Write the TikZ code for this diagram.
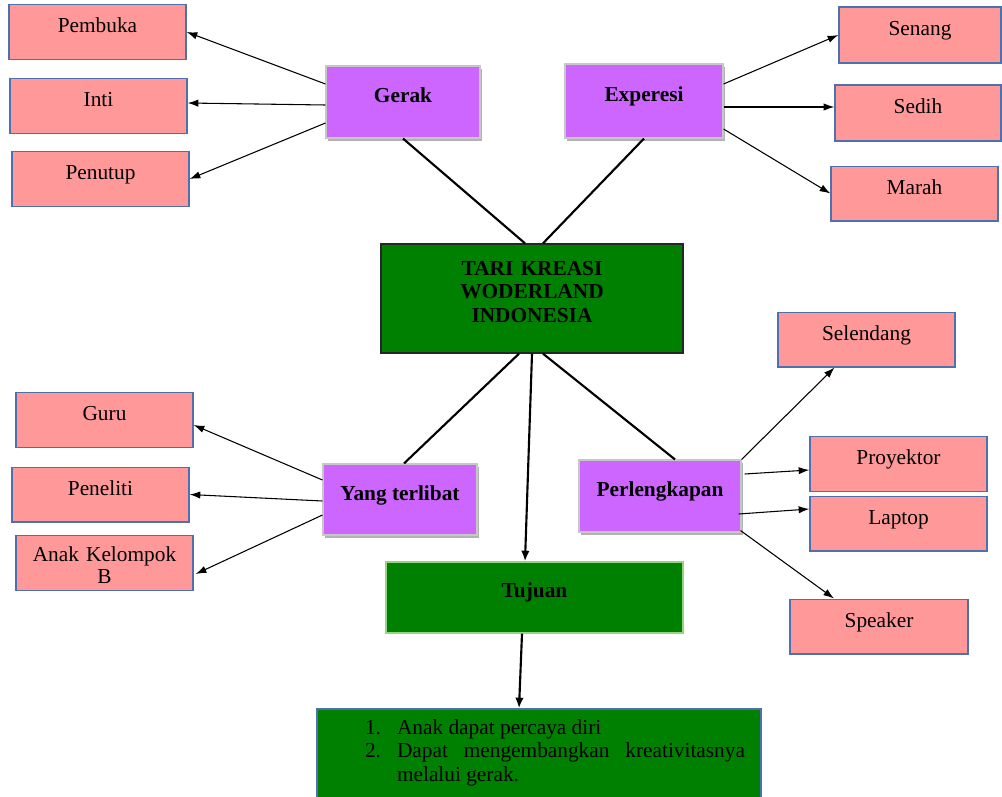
\documentclass[tikz,border=0pt]{standalone}
\usepackage{fontspec}
\setmainfont{Liberation Serif}
\usetikzlibrary{positioning, arrows.meta, calc, shadows}
\definecolor{pinkfill}{RGB}{255,153,153}
\definecolor{pinkline}{RGB}{79,112,176}
\definecolor{ungu}{RGB}{204,102,255}
\definecolor{hijau}{RGB}{0,128,0}
\definecolor{hijauline}{RGB}{150,212,130}
\tikzset{
  leaf/.style={draw=pinkline, fill=pinkfill, line width=1pt, inner sep=0pt,
    minimum width=132.75pt, minimum height=41pt,
    font=\fontsize{16}{17.6}\selectfont, text height=12pt, text depth=11.25pt},
  topic/.style={draw=black!22, fill=ungu, line width=0.8pt, inner sep=0pt,
    minimum width=115.5pt, minimum height=54pt,
    font=\fontsize{16}{17.6}\selectfont\bfseries, text height=11pt, text depth=10pt,
    drop shadow={shadow xshift=1.5pt, shadow yshift=-2pt, fill=black, opacity=.3}},
  pusat/.style={draw=black!85, fill=hijau, line width=1pt, inner sep=0pt,
    font=\fontsize{16}{17.6}\selectfont\bfseries},
  tipis/.style={-{Latex[length=8pt,width=5.5pt]}, line width=0.8pt},
  tebal/.style={line width=1.6pt},
}
\begin{document}
\begin{tikzpicture}[x=0.75pt, y=-0.75pt]
    \useasboundingbox (0,0) rectangle (1002,796);

    \node[pusat, minimum width=226.5pt, minimum height=81.75pt, text width=200pt, align=center,
      text height=12pt, text depth=46.5pt] (tari) at (532,298.5) {TARI KREASI\\ WODERLAND\\ INDONESIA};

    \node[topic] (gerak) at (403,102) {Gerak};
    \node[topic, minimum width=118.5pt, minimum height=55.5pt] (experesi) at (644,101) {Experesi};
    \node[topic, minimum height=53.25pt] (yang) at (400,499.5) {Yang terlibat};
    \node[topic, minimum width=121.5pt] (perlengkapan) at (660,496) {Perlengkapan};

    \node[leaf] (pembuka) at (97.5,32) {Pembuka};
    \node[leaf] (inti) at (98.5,106) {Inti};
    \node[leaf] (penutup) at (100.5,179) {Penutup};
    \node[leaf, minimum width=121.5pt, minimum height=42pt] (senang) at (920,35) {Senang};
    \node[leaf, minimum width=124.5pt, minimum height=42pt] (sedih) at (918,113) {Sedih};
    \node[leaf, minimum width=125.25pt] (marah) at (914.5,193.5) {Marah};
    \node[leaf] (guru) at (104.5,420) {Guru};
    \node[leaf] (peneliti) at (100.5,494.5) {Peneliti};
    \node[leaf, text width=120pt, align=center, text height=12pt, text depth=15pt,
      font=\fontsize{16}{16.5}\selectfont] (anak) at (104.5,563) {Anak Kelompok\\ B};
    \node[leaf] (selendang) at (866.5,339.5) {Selendang};
    \node[leaf] (proyektor) at (898.5,464) {Proyektor};
    \node[leaf] (laptop) at (898.5,523.5) {Laptop};
    \node[leaf, minimum width=133.5pt] (speaker) at (879,626.5) {Speaker};

    \node[pusat, draw=hijauline, minimum width=222.75pt, minimum height=53.25pt,
      text height=12pt, text depth=12.75pt] (tujuan) at (534.5,597.5) {Tujuan};
    \node[pusat, draw=pinkline, font=\fontsize{16}{17.6}\selectfont, minimum width=333pt,
      minimum height=75.75pt, text width=309pt, align=justify, text height=12pt,
      text depth=49.5pt] (hasil) at (539,759.5) {%
      \leftskip=24pt
      \hangindent=24pt \hangafter=1 \noindent\makebox[24pt][l]{1.}Anak dapat percaya diri\par
      \hangindent=24pt \hangafter=1 \noindent\makebox[24pt][l]{2.}Dapat mengembangkan kreativitasnya\linebreak melalui gerak.\par};

    \path[tebal]
    (gerak.south) edge ($(tari.north)+(-7,0)$)
    (experesi.south) edge ($(tari.north)+(11,0)$)
    ($(tari.south)+(-13,0)$) edge ($(yang.north)+(4,0)$)
    ($(tari.south)+(11,0)$) edge ($(perlengkapan.north)+(15,0)$)
    ;
    \path[tebal, -{Latex[length=8pt,width=6.5pt]}]
    (tari.south) edge ($(tujuan.north)+(-9.5,0)$)
    ($(tujuan.south)+(-12.5,0)$) edge ($(hasil.north)+(-20,0)$)
    ;
    \path[tipis]
    ($(gerak.west)+(0,-18)$) edge (pembuka.east)
    ($(gerak.west)+(0,3)$) edge ($(inti.east)+(0,-3)$)
    ($(gerak.west)+(0,21)$) edge (penutup.east)
    ($(experesi.east)+(0,-17)$) edge (senang.west)
    ($(experesi.east)+(0,6)$) edge ($(sedih.west)+(0,-6)$)
    ($(experesi.east)+(0,28)$) edge (marah.west)
    ($(yang.west)+(0,-19.5)$) edge ($(guru.east)+(0,5)$)
    ($(yang.west)+(0,1.5)$) edge (peneliti.east)
    ($(yang.west)+(0,15.5)$) edge ($(anak.east)+(2,11)$)
    (perlengkapan.north east) edge ($(selendang.south)+(-32,0)$)
    ($(perlengkapan.east)+(3,-22)$) edge ($(proyektor.west)+(0,6)$)
    ($(perlengkapan.east)+(-3,18)$) edge ($(laptop.west)+(0,-14.5)$)
    ($(perlengkapan.south east)+(-1,-2)$) edge ($(speaker.north)+(-45,0)$)
    ;
\end{tikzpicture}
\end{document}
